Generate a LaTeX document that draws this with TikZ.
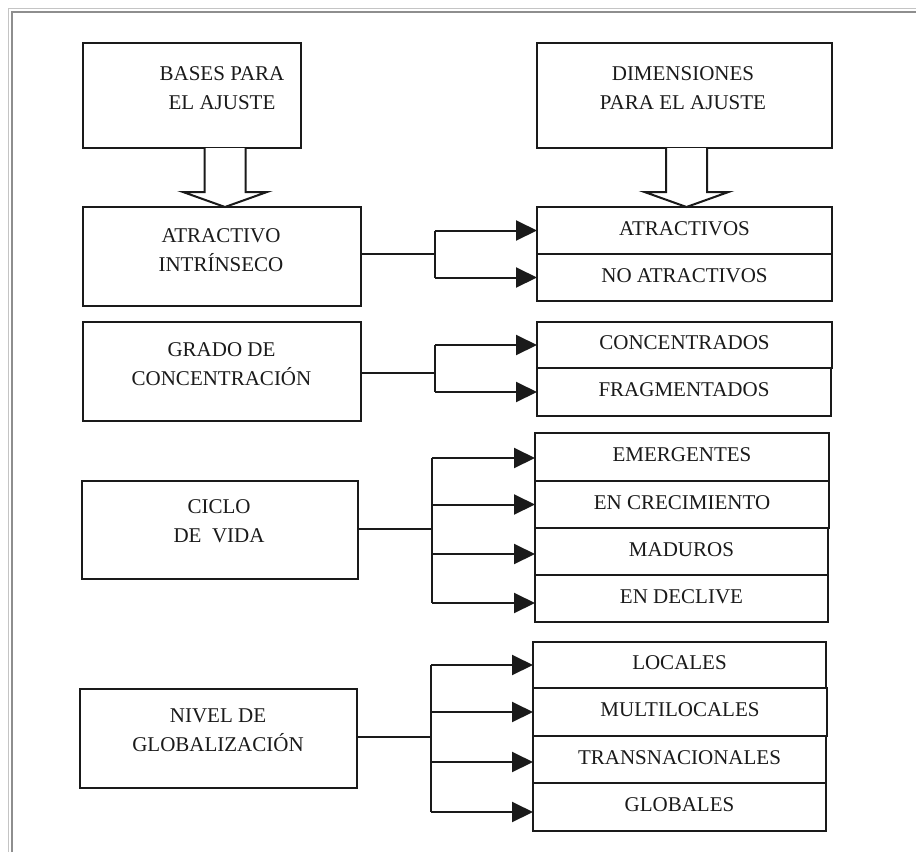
\documentclass[tikz,border=0pt]{standalone}
\usepackage{fontspec}
\setmainfont{Liberation Serif}
\usetikzlibrary{arrows.meta,calc}
\definecolor{ink}{HTML}{1A1A1A}
\definecolor{frameLight}{HTML}{C4C4C4}
\definecolor{frameDark}{HTML}{8E8E8E}
\newcommand\blockarrow[2]{%
  \draw[hollow] ($(#1)+(-20.5,0)$) -- ($(#2)+(-20.5,-15)$) -- ($(#2)+(-42,-15)$)
    -- (#2) -- ($(#2)+(42,-15)$) -- ($(#2)+(20.5,-15)$) -- ($(#1)+(20.5,0)$);}
\begin{document}
\begin{tikzpicture}[x=1pt,y=-1pt,
  box/.style={draw=ink, line width=2pt, inner sep=0pt, outer sep=0pt},
  lbl/.style={inner sep=0pt, align=center, text=ink, font=\fontsize{21}{29}\selectfont, anchor=north},
  item/.style={box, text=ink, font=\fontsize{21}{29}\selectfont, text height=14pt, text depth=5pt},
  link/.style={draw=ink, line width=2pt},
  arr/.style={link, -{Triangle[length=21pt,width=20pt]}},
  hollow/.style={draw=ink, line width=2pt, fill=white, line join=miter}]

% page and frame
\fill[white] (0,0) rectangle (916,852);
\useasboundingbox (0,0) rectangle (916,852);
\draw[frameLight, line width=1pt] (8.5,852) -- (8.5,8) -- (916,8);
\draw[frameDark, line width=2.5pt] (12,852) -- (12,12) -- (916,12);

% headers
\node[box, minimum width=218, minimum height=105] (bases) at (192,95.5) {};
\node[lbl] (basesT) at (222,66) {BASES PARA\\EL AJUSTE};
\node[box, minimum width=295, minimum height=105] (dims) at (684.5,95.5) {};
\node[lbl] (dimsT) at (683,66) {DIMENSIONES\\PARA EL AJUSTE};

% criteria
\node[box, minimum width=278, minimum height=99] (atr) at (222,256.5) {};
\node[lbl] (atrT) at (221,228) {ATRACTIVO\\INTRÍNSECO};
\node[box, minimum width=278, minimum height=99] (grado) at (222,371.5) {};
\node[lbl] (gradoT) at (221.5,342) {GRADO DE\\CONCENTRACIÓN};
\node[box, minimum width=276, minimum height=98] (ciclo) at (220,530) {};
\node[lbl] (cicloT) at (219,499) {CICLO\\DE\ \ VIDA};
\node[box, minimum width=277, minimum height=99] (nivel) at (218.5,738.5) {};
\node[lbl] (nivelT) at (218,709) {NIVEL DE\\GLOBALIZACIÓN};

% categories
\node[item, minimum width=295, minimum height=47] (atractivos) at (684.5,230.5) {ATRACTIVOS};
\node[item, minimum width=295, minimum height=47] (noatr) at (684.5,277.5) {NO ATRACTIVOS};
\node[item, minimum width=295, minimum height=46] (conc) at (684.5,345) {CONCENTRADOS};
\node[item, minimum width=294, minimum height=48] (frag) at (684,392) {FRAGMENTADOS};
\node[item, minimum width=294, minimum height=48] (emer) at (682,457) {EMERGENTES};
\node[item, minimum width=294, minimum height=47] (crec) at (682,504.5) {EN CRECIMIENTO};
\node[item, minimum width=293, minimum height=47] (madu) at (681.5,551.5) {MADUROS};
\node[item, minimum width=293, minimum height=47] (decl) at (681.5,598.5) {EN DECLIVE};
\node[item, minimum width=293, minimum height=46] (loc) at (679.5,665) {LOCALES};
\node[item, minimum width=294, minimum height=48] (multi) at (680,712) {MULTILOCALES};
\node[item, minimum width=293, minimum height=47] (trans) at (679.5,759.5) {TRANSNACIONALES};
\node[item, minimum width=293, minimum height=48] (glob) at (679.5,807) {GLOBALES};

% hollow block arrows
\coordinate (b1top) at (225,0 |- bases.south);
\coordinate (b1tip) at (225,0 |- atr.north);
\blockarrow{b1top}{b1tip}
\coordinate (b2top) at (686.5,0 |- dims.south);
\coordinate (b2tip) at (686.5,0 |- atractivos.north);
\blockarrow{b2top}{b2tip}

% branch 1
\coordinate (f1) at (435,254);
\draw[link] (f1 -| atr.east) -- (f1);
\draw[link] (f1 |- atractivos.west) -- (f1 |- noatr.west);
\draw[arr] (f1 |- atractivos.west) -- (atractivos.west);
\draw[arr] (f1 |- noatr.west) -- (noatr.west);

% branch 2
\coordinate (f2) at (435,373);
\draw[link] (f2 -| grado.east) -- (f2);
\draw[link] (f2 |- conc.west) -- (f2 |- frag.west);
\draw[arr] (f2 |- conc.west) -- (conc.west);
\draw[arr] (f2 |- frag.west) -- (frag.west);

% branch 3
\coordinate (f3) at (432,529);
\coordinate (e1) at ($(emer.west)+(0,1)$);
\coordinate (e2) at (crec.west);
\coordinate (e3) at ($(madu.west)+(0,2.5)$);
\coordinate (e4) at ($(decl.west)+(0,4.5)$);
\draw[link] (f3 -| ciclo.east) -- (f3);
\draw[link] (f3 |- e1) -- (f3 |- e4);
\foreach \e in {e1,e2,e3,e4} \draw[arr] (f3 |- \e) -- (\e);

% branch 4
\coordinate (f4) at (431,737);
\coordinate (g1) at (loc.west);
\coordinate (g2) at (multi.west);
\coordinate (g3) at ($(trans.west)+(0,2.5)$);
\coordinate (g4) at ($(glob.west)+(0,5)$);
\draw[link] (f4 -| nivel.east) -- (f4);
\draw[link] (f4 |- g1) -- (f4 |- g4);
\foreach \g in {g1,g2,g3,g4} \draw[arr] (f4 |- \g) -- (\g);
\end{tikzpicture}
\end{document}
